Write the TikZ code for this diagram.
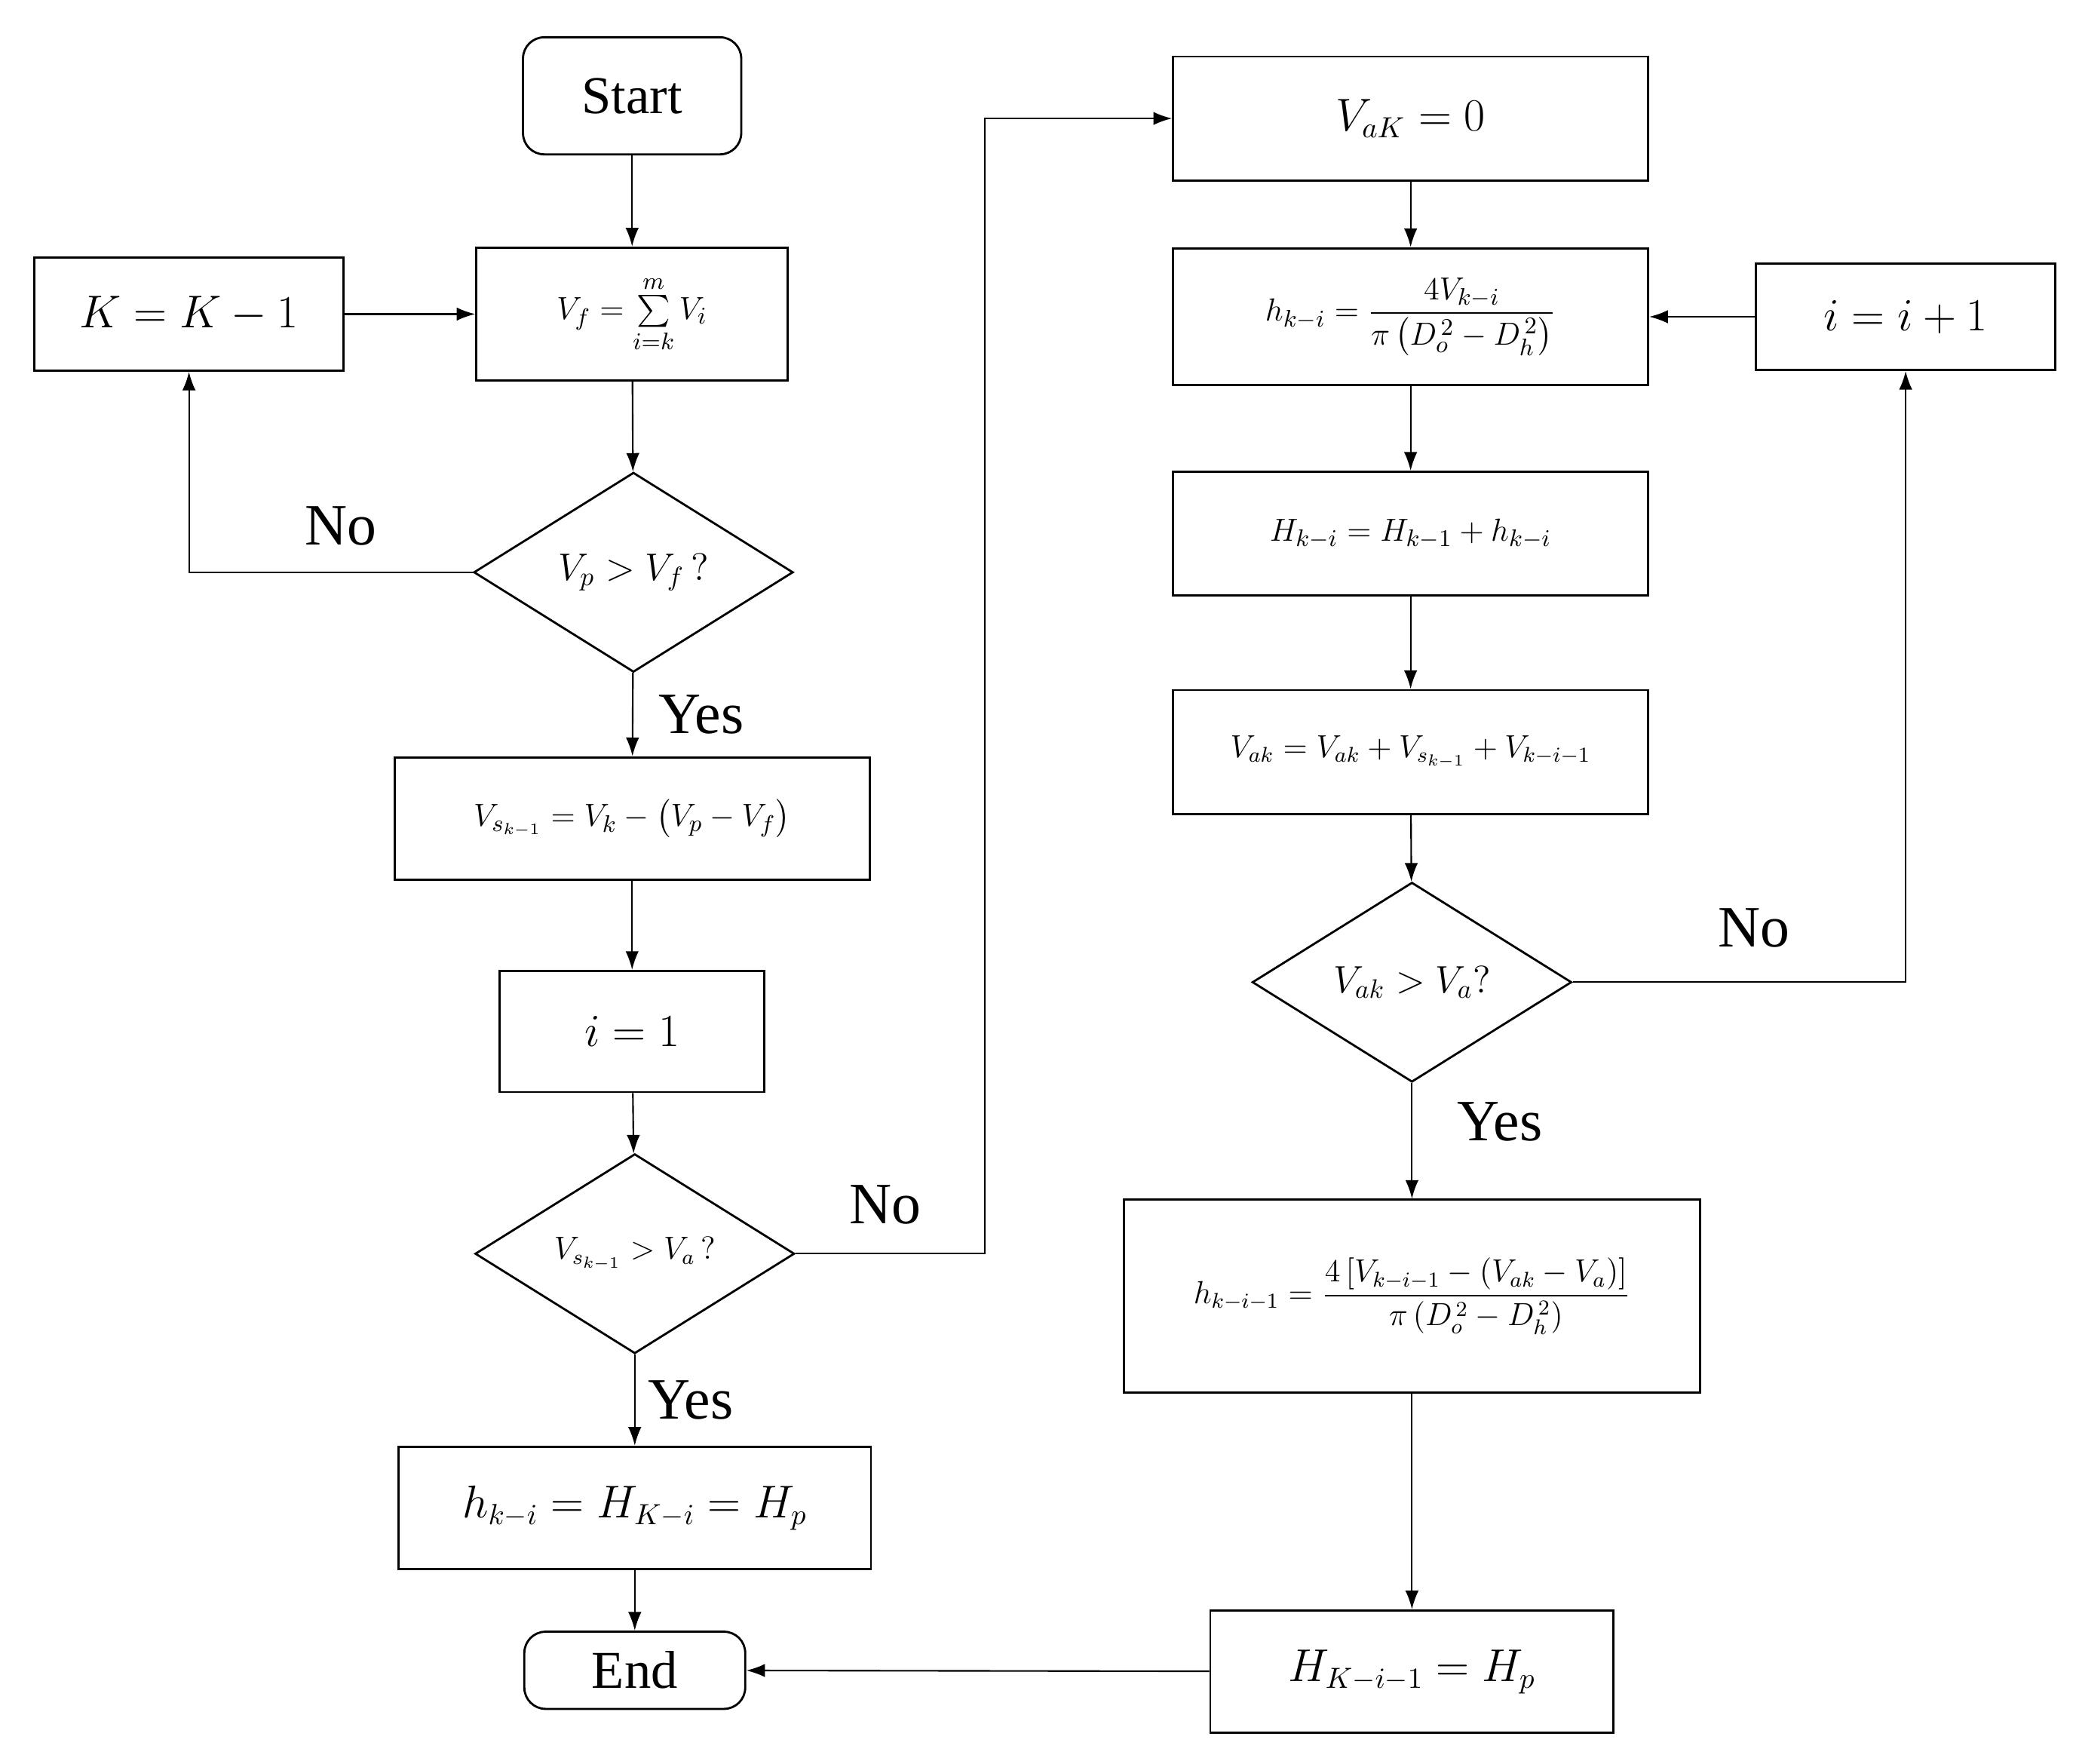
\documentclass[tikz,border=0pt]{standalone}
\usepackage{amsmath}
\usepackage{fontspec}
\setmainfont{Liberation Serif}
\usetikzlibrary{shapes.geometric,arrows.meta}
\begin{document}
\begin{tikzpicture}[x=0.5pt,y=-0.5pt,
  every node/.style={font=\fontsize{16}{19}\selectfont},
  box/.style={draw,thick,minimum width=#1*0.5pt,inner sep=0pt},
  dia/.style={draw,thick,diamond,aspect=1.6,minimum width=240*0.5pt,minimum height=150*0.5pt,inner sep=0pt,font=\fontsize{14}{17}\selectfont},
  sm/.style={font=\fontsize{13}{16}\selectfont},
  arr/.style={-{Latex[length=7pt,width=5pt]},semithick},
  lab/.style={font=\fontsize{22}{26}\selectfont}]
\useasboundingbox (0,0) rectangle (1560,1325);
\node[box=164,rounded corners=8pt,minimum height=44pt,font=\fontsize{20}{24}\selectfont] (start) at (475,72) {Start};
\node[box=234,minimum height=50pt,sm] (vf) at (475,236) {$V_f=\sum\limits_{i=k}^{m}V_i$};
\node[box=232,minimum height=42.5pt] (kk) at (142,236) {$K=K-1$};
\node[dia] (d1) at (476,430) {$V_p>V_f\,?$};
\node[box=357,minimum height=46pt,sm] (vs) at (475,615) {$V_{s_{k-1}}=V_k-\left(V_p-V_f\right)$};
\node[box=199,minimum height=45.5pt] (i1) at (475,775) {$i=1$};
\node[dia,font=\fontsize{12}{14}\selectfont] (d2) at (477,942) {$V_{s_{k-1}}>V_a\,?$};
\node[box=355,minimum height=46pt] (hp) at (477,1133) {$h_{k-i}=H_{K-i}=H_p$};
\node[box=166,rounded corners=8pt,minimum height=29pt,font=\fontsize{20}{24}\selectfont] (end) at (477,1255) {End};
\node[box=357,minimum height=46.5pt] (vak0) at (1060,89) {$V_{aK}=0$};
\node[box=357,minimum height=51.5pt,sm] (hki) at (1060,238) {$h_{k-i}=\dfrac{4V_{k-i}}{\pi\left(D_o^{\,2}-D_h^{\,2}\right)}$};
\node[box=357,minimum height=46.5pt,sm] (hh) at (1060,401) {$H_{k-i}=H_{k-1}+h_{k-i}$};
\node[box=357,minimum height=46.5pt,font=\fontsize{12}{14}\selectfont] (va) at (1060,565) {$V_{ak}=V_{ak}+V_{s_{k-1}}+V_{k-i-1}$};
\node[dia] (d3) at (1061,738) {$V_{ak}>V_a?$};
\node[box=433,minimum height=72.5pt,font=\fontsize{12}{14}\selectfont] (hk1) at (1061,974) {$h_{k-i-1}=\dfrac{4\left[V_{k-i-1}-\left(V_{ak}-V_a\right)\right]}{\pi\left(D_o^{\,2}-D_h^{\,2}\right)}$};
\node[box=303,minimum height=46pt] (hkp) at (1061,1256) {$H_{K-i-1}=H_p$};
\node[box=225,minimum height=40pt] (ii) at (1432,238) {$i=i+1$};
\draw[arr] (start) -- (vf);
\draw[arr] (vf) -- (d1);
\draw[arr] (d1.west) -| (kk.south);
\draw[arr] (kk) -- (vf);
\draw[arr] (d1) -- (vs);
\draw[arr] (vs) -- (i1);
\draw[arr] (i1) -- (d2);
\draw[arr] (d2) -- (hp);
\draw[arr] (hp) -- (end);
\coordinate (c2) at (740,942);
\draw[arr] (d2.east) -- (c2) |- (vak0.west);
\draw[arr] (vak0) -- (hki);
\draw[arr] (hki) -- (hh);
\draw[arr] (hh) -- (va);
\draw[arr] (va) -- (d3);
\draw[arr] (d3.east) -| (ii.south);
\draw[arr] (ii) -- (hki);
\draw[arr] (d3) -- (hk1);
\draw[arr] (hk1) -- (hkp);
\draw[arr] (hkp) -- (end);
\node[lab] (n1) at (256,395) {No};
\node[lab] (y1) at (527,537) {Yes};
\node[lab] (n2) at (665,905) {No};
\node[lab] (y2) at (519,1052) {Yes};
\node[lab] (n3) at (1318,697) {No};
\node[lab] (y3) at (1127,843) {Yes};
\end{tikzpicture}
\end{document}
